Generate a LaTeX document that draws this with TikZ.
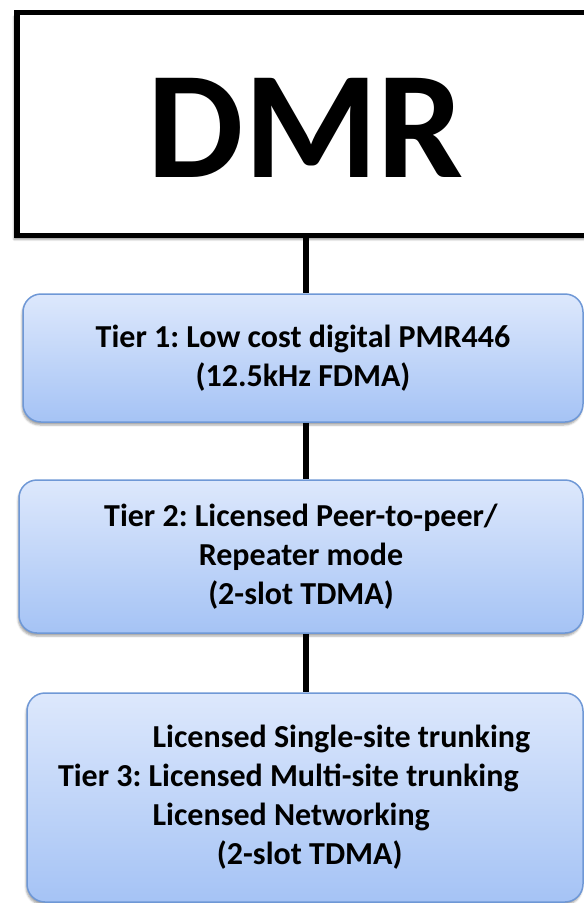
\documentclass[tikz,border=0pt]{standalone}
\usepackage{fontspec}
\setmainfont{Carlito}
\usetikzlibrary{positioning, shadows.blur}
\definecolor{tiertop}{HTML}{DDE8FC}
\definecolor{tierbot}{HTML}{A5C3F5}
\definecolor{tierline}{HTML}{6F98D6}

\begin{document}
\begin{tikzpicture}[x=1pt, y=-1pt,
        tier/.style={draw=tierline, line width=1.5pt, rounded corners=18pt,
            top color=tiertop, bottom color=tierbot, inner sep=0pt, align=center,
            font=\fontsize{32}{39}\selectfont\bfseries\frenchspacing,
            blur shadow={shadow xshift=-1pt, shadow yshift=-3pt, shadow opacity=35}},
        link/.style={line width=6pt}]
        \useasboundingbox (0,0) rectangle (584,903);

        \node[draw, line width=5.5pt, fill=white, minimum width=578pt, minimum height=223pt,
            font=\fontsize{153}{160}\selectfont\bfseries,
            blur shadow={shadow xshift=-3pt, shadow yshift=-4pt, shadow opacity=40}] (dmr) at (306,124)
            {\raisebox{-4pt}[\height][0pt]{DMR}};

        \node[tier, minimum width=560pt, minimum height=128pt] (tier1) at (303,358)
            {Tier 1: Low cost digital PMR446\\(12.5kHz FDMA)};
        \node[tier, minimum width=564pt, minimum height=153pt] (tier2) at (301,556.5)
            {Tier 2: Licensed Peer-to-peer/\\Repeater mode\\(2-slot TDMA)};
        \node[tier, minimum width=556pt, minimum height=209pt, text width=494pt, align=flush left] (tier3) at (305,797.5)
            {\hphantom{Tier 3: }\hspace*{4pt}Licensed Single-site trunking\\
             Tier 3: Licensed Multi-site trunking\\
             \hphantom{Tier 3: }\hspace*{4pt}Licensed Networking\\
             \hspace*{159pt}(2-slot TDMA)};

        \draw[link] (dmr.south) -- (dmr.south |- tier1.north);
        \draw[link] (dmr.south |- tier1.south) -- (dmr.south |- tier2.north);
        \draw[link] (dmr.south |- tier2.south) -- (dmr.south |- tier3.north);
    \end{tikzpicture}
\end{document}
